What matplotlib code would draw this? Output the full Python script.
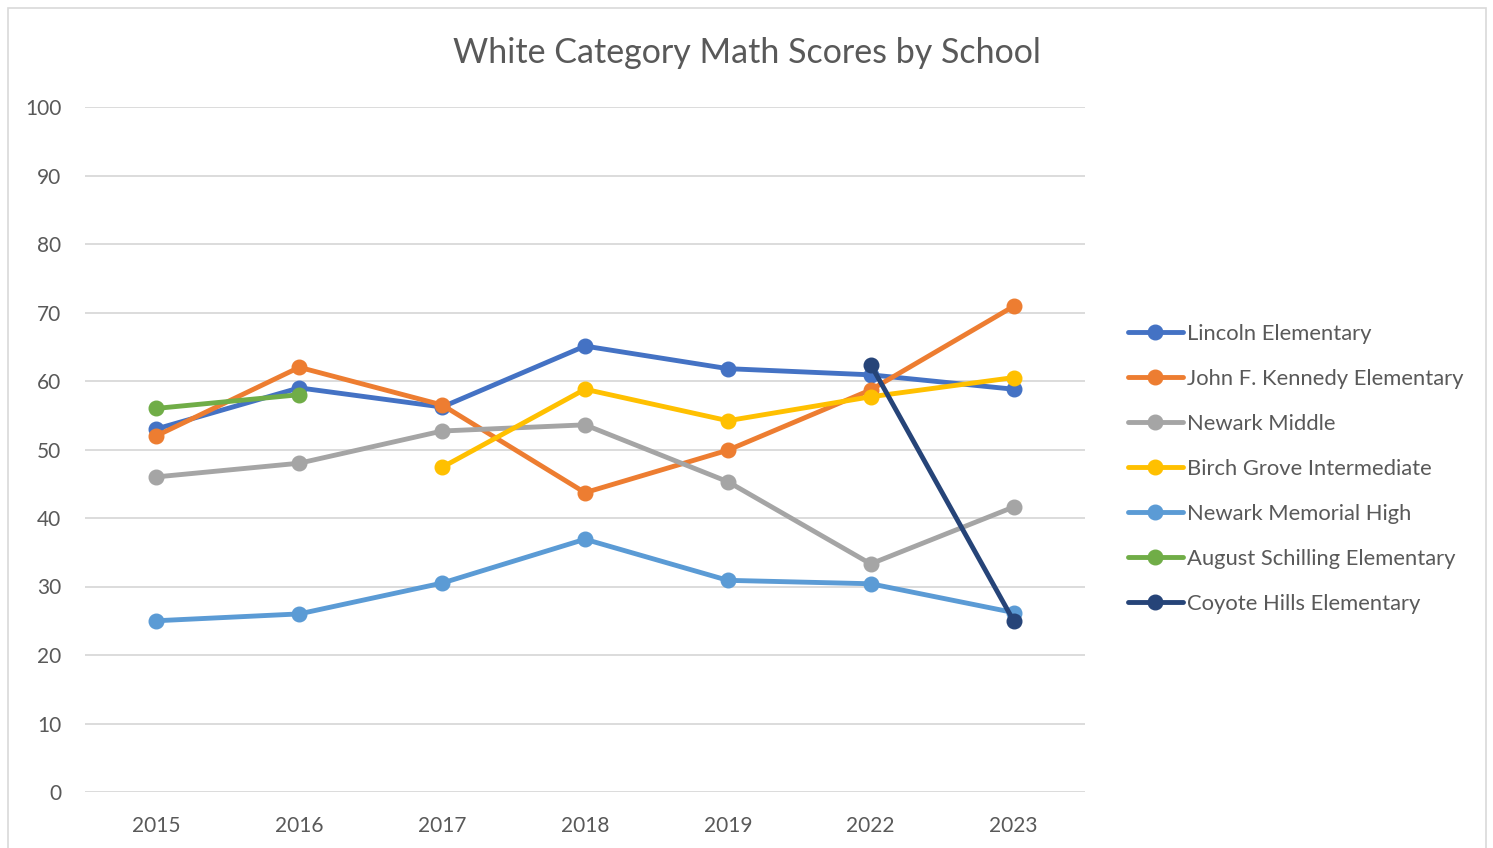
import matplotlib
matplotlib.use("Agg")
import matplotlib.pyplot as plt
from matplotlib.patches import Rectangle
import numpy as np

years = ["2015", "2016", "2017", "2018", "2019", "2022", "2023"]
nan = np.nan
lincoln = [53.0, 59.0, 56.2, 65.1, 61.8, 60.9, 58.8]
jfk = [52.0, 62.0, 56.5, 43.7, 49.9, 58.7, 70.9]
newark_middle = [46.0, 48.0, 52.7, 53.6, 45.3, 33.3, 41.6]
birch_grove = [nan, nan, 47.4, 58.8, 54.2, 57.7, 60.5]
memorial_high = [25.0, 26.0, 30.5, 36.9, 30.9, 30.4, 26.2]
schilling = [56.0, 58.0, nan, nan, nan, nan, nan]
coyote_hills = [nan, nan, nan, nan, nan, 62.4, 25.0]

series = [
    ("Lincoln Elementary", lincoln, "#4472C4"),
    ("John F. Kennedy Elementary", jfk, "#ED7D31"),
    ("Newark Middle", newark_middle, "#A5A5A5"),
    ("Birch Grove Intermediate", birch_grove, "#FFC000"),
    ("Newark Memorial High", memorial_high, "#5B9BD5"),
    ("August Schilling Elementary", schilling, "#70AD47"),
    ("Coyote Hills Elementary", coyote_hills, "#264478"),
]

plt.rcParams['font.family'] = ['Lato', 'DejaVu Sans']
text_color = "#595959"

W, H = 1493, 848
fig = plt.figure(figsize=(W / 100, H / 100), dpi=100)
fig.patches.append(Rectangle((8 / W, -0.01), (1486 - 8) / W, (848 - 8) / H + 0.01,
                             transform=fig.transFigure, fill=False,
                             edgecolor="#D9D9D9", linewidth=1.2))

ax = fig.add_axes([85 / W, (H - 792) / H, (1085 - 85) / W, (792 - 107) / H])
x = np.arange(len(years))
for name, vals, col in series:
    ax.plot(x, vals, color=col, linewidth=3.5, marker='o', markersize=10.5,
            label=name, solid_capstyle='round')

ax.set_xlim(-0.5, len(years) - 0.5)
ax.set_ylim(0, 100)
ax.set_yticks(np.arange(0, 101, 10))
ax.set_xticks(x)
ax.set_xticklabels(years)
ax.grid(axis='y', color="#D9D9D9", linewidth=1.3)
ax.set_axisbelow(True)
for s in ax.spines.values():
    s.set_visible(False)
ax.tick_params(axis='both', length=0, labelsize=15, colors=text_color)
ax.tick_params(axis='y', pad=17)
ax.tick_params(axis='x', pad=17)
for lbl in ax.get_yticklabels():
    lbl.set_horizontalalignment('right')

fig.text(747 / W, (H - 53) / H, "White Category Math Scores by School",
         ha='center', va='center', fontsize=24.5, color=text_color)

leg = fig.legend(loc='upper left', bbox_to_anchor=(1119 / W, (H - 315) / H),
                 bbox_transform=fig.transFigure, frameon=False,
                 fontsize=15.8, handlelength=2.5, handletextpad=0.18,
                 labelspacing=1.14, borderaxespad=0)
for t in leg.get_texts():
    t.set_color(text_color)

fig.savefig("out.png", dpi=100)
